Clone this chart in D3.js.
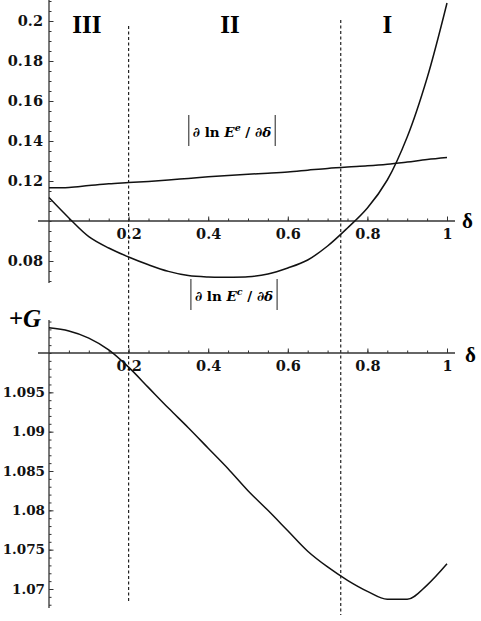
<!DOCTYPE html>
<html lang="en">
<head>
    <meta charset="UTF-8">
    <script src="https://d3js.org/d3.v7.min.js"></script>
    <title>delta panels</title>
    <style>
        body { margin: 0; background: #fff; }
        .tick text { font-family: "DejaVu Serif", serif; font-weight: bold; font-size: 14.5px; fill: #111; }
        .bot .tick text { font-size: 13.5px; }
    </style>
</head>
<body>
    <svg width="481" height="621" id="chart"></svg>
    <script>

        // values
        const delta = [0, 0.05, 0.1, 0.15, 0.2, 0.25, 0.3, 0.35, 0.4, 0.45, 0.5,
                       0.55, 0.6, 0.65, 0.7, 0.75, 0.8, 0.85, 0.9, 0.95, 1];
        const slopeE = [0.1166, 0.1168, 0.1177, 0.1186, 0.1192, 0.1198, 0.1205, 0.1213, 0.1221, 0.1228, 0.1234,
                        0.1239, 0.1245, 0.1254, 0.1263, 0.1270, 0.1276, 0.1284, 0.1295, 0.1307, 0.1317];
        const slopeC = [0.1117, 0.1015, 0.0922, 0.0865, 0.0820, 0.0781, 0.0748, 0.0727, 0.0720, 0.0719, 0.0721,
                        0.0735, 0.0765, 0.0805, 0.0875, 0.0965, 0.1065, 0.1205, 0.1420, 0.1715, 0.2090];
        const gValues = [1.1032, 1.1028, 1.1019, 1.1004, 1.0982, 1.0956, 1.0930, 1.0905, 1.0879, 1.0853, 1.0825,
                         1.0800, 1.0774, 1.0748, 1.0728, 1.0711, 1.0697, 1.0687, 1.0687, 1.0705, 1.0732];

        const xTicks = [0.2, 0.4, 0.6, 0.8, 1];
        const xTickLabels = ["0.2", "0.4", "0.6", "0.8", "1"];
        const topTicks = [0.08, 0.12, 0.14, 0.16, 0.18, 0.2];
        const topTickLabels = ["0.08", "0.12", "0.14", "0.16", "0.18", "0.2"];
        const botTicks = [1.07, 1.075, 1.08, 1.085, 1.09, 1.095];
        const botTickLabels = ["1.07", "1.075", "1.08", "1.085", "1.09", "1.095"];

        const boundaries = [0.2, 0.733];
        const regionNames = ["III", "II", "I"];
        const regionCenters = [0.095, 0.455, 0.85];

        let svg = d3.select("#chart");

        let x = d3.scaleLinear().domain([0, 1]).range([49, 447]);
        let yTop = d3.scaleLinear().domain([0.1, 0.2]).range([221, 21]);
        let yBot = d3.scaleLinear().domain([1.1, 1.07]).range([353, 589]);

        // dashed region boundaries
        svg.append("line")
            .attr("x1", x(boundaries[0])).attr("x2", x(boundaries[0]))
            .attr("y1", 26).attr("y2", 601)
            .attr("style", "stroke: #222; stroke-width: 1.2; stroke-dasharray: 3,2.5");
        svg.append("line")
            .attr("x1", x(boundaries[1])).attr("x2", x(boundaries[1]))
            .attr("y1", 20).attr("y2", 615)
            .attr("style", "stroke: #222; stroke-width: 1.2; stroke-dasharray: 3,2.5");

        // region names
        regionNames.forEach((name, i) => {
            svg.append("text")
                .attr("x", x(regionCenters[i]))
                .attr("y", 33)
                .attr("text-anchor", "middle")
                .text(name)
                .attr("style", "font-family: 'Liberation Serif', serif; font-weight: bold; font-size: 25px;");
        });

        function drawPanel(yScale, axisY, yTop0, yBot0, ticks, labels, minorStep, cls, pad) {
            // y axis minor ticks (inside)
            let lo = Math.min(yScale.invert(yTop0), yScale.invert(yBot0));
            let hi = Math.max(yScale.invert(yTop0), yScale.invert(yBot0));
            let minor = d3.range(Math.ceil(lo / minorStep - 1e-6), Math.floor(hi / minorStep + 1e-6) + 1)
                .map(k => k * minorStep);
            svg.append("g")
                .attr("transform", "translate(" + x(0) + ",0)")
                .call(d3.axisLeft(yScale).tickValues(minor).tickSizeInner(-2.5).tickSizeOuter(0).tickFormat(""))
                .call(g => g.select(".domain").remove())
                .call(g => g.selectAll("line").attr("stroke", "#333"));
            svg.append("g")
                .attr("class", cls)
                .attr("transform", "translate(" + x(0) + ",0)")
                .call(d3.axisLeft(yScale).tickValues(ticks).tickSizeInner(-4.5).tickPadding(pad)
                    .tickFormat((d, i) => labels[i]))
                .call(g => g.select(".domain").remove())
                .call(g => g.selectAll("line").attr("stroke", "#333"));
            svg.append("line")
                .attr("x1", x(0)).attr("x2", x(0))
                .attr("y1", yTop0).attr("y2", yBot0)
                .attr("style", "stroke: #333; stroke-width: 1.3");

            // x axis
            svg.append("g").attr("transform", "translate(0," + yScale(axisY) + ")")
                .call(d3.axisBottom(x).tickValues(d3.range(1, 21).map(k => k * 0.05)).tickSizeInner(-2.5)
                    .tickSizeOuter(0).tickFormat(""))
                .call(g => g.select(".domain").remove())
                .call(g => g.selectAll("line").attr("stroke", "#333"));
            svg.append("g").attr("transform", "translate(0," + yScale(axisY) + ")")
                .call(d3.axisBottom(x).tickValues(xTicks).tickSizeInner(-4.5).tickPadding(8)
                    .tickFormat((d, i) => xTickLabels[i]))
                .call(g => g.select(".domain").remove())
                .call(g => g.selectAll("line").attr("stroke", "#333"));
            svg.append("line")
                .attr("x1", 38).attr("x2", 455)
                .attr("y1", yScale(axisY)).attr("y2", yScale(axisY))
                .attr("style", "stroke: #333; stroke-width: 1.3");
        }

        drawPanel(yTop, 0.1, 0, 283, topTicks, topTickLabels, 0.005, "top", 6);
        drawPanel(yBot, 1.1, 320, 608, botTicks, botTickLabels, 0.001, "bot", 4);

        // delta labels
        svg.append("text").attr("x", 462).attr("y", yTop(0.1) + 7).text("δ")
            .attr("style", "font-family: 'Liberation Serif', serif; font-weight: bold; font-size: 21px;");
        svg.append("text").attr("x", 465).attr("y", yBot(1.1) + 9).text("δ")
            .attr("style", "font-family: 'Liberation Serif', serif; font-weight: bold; font-size: 21px;");

        // +G label
        svg.append("text").attr("x", 41).attr("y", 327).attr("text-anchor", "end").text("+G")
            .attr("style", "font-family: 'Liberation Serif', serif; font-weight: bold; font-style: italic; font-size: 25px;");

        // curves
        let lineTop = d3.line().x((d, i) => x(delta[i])).y(d => yTop(d)).curve(d3.curveCatmullRom.alpha(0.5));
        svg.append("path").datum(slopeE).attr("d", lineTop)
            .attr("style", "fill: none; stroke: #111; stroke-width: 1.5");
        svg.append("path").datum(slopeC).attr("d", lineTop)
            .attr("style", "fill: none; stroke: #111; stroke-width: 1.5");

        let lineBot = d3.line().x((d, i) => x(delta[i])).y(d => yBot(d)).curve(d3.curveMonotoneX);
        svg.append("path").datum(gValues).attr("d", lineBot)
            .attr("style", "fill: none; stroke: #111; stroke-width: 1.5");

        // curve names with absolute value bars
        function curveName(cx, baseY, sup) {
            let t = svg.append("text")
                .attr("x", cx).attr("y", baseY)
                .attr("text-anchor", "middle")
                .attr("style", "font-family: 'DejaVu Serif', serif; font-weight: bold; font-size: 13.5px;");
            t.append("tspan").attr("font-style", "italic").text("∂");
            t.append("tspan").text(" ln ");
            t.append("tspan").attr("font-style", "italic").text("E");
            t.append("tspan").attr("dy", -6).attr("font-size", "9.5px").attr("font-style", "italic").text(sup);
            t.append("tspan").attr("dy", 6).text(" / ");
            t.append("tspan").attr("font-style", "italic").text("∂δ");
            let w = t.node().getComputedTextLength();
            [cx - w / 2 - 4, cx + w / 2 + 4].forEach(bx => {
                svg.append("line")
                    .attr("x1", bx).attr("x2", bx)
                    .attr("y1", baseY - 22).attr("y2", baseY + 9)
                    .attr("style", "stroke: #444; stroke-width: 1.2");
            });
        }
        curveName(232, 137, "e");
        curveName(234, 301, "c");

    </script>
</body>
</html>
